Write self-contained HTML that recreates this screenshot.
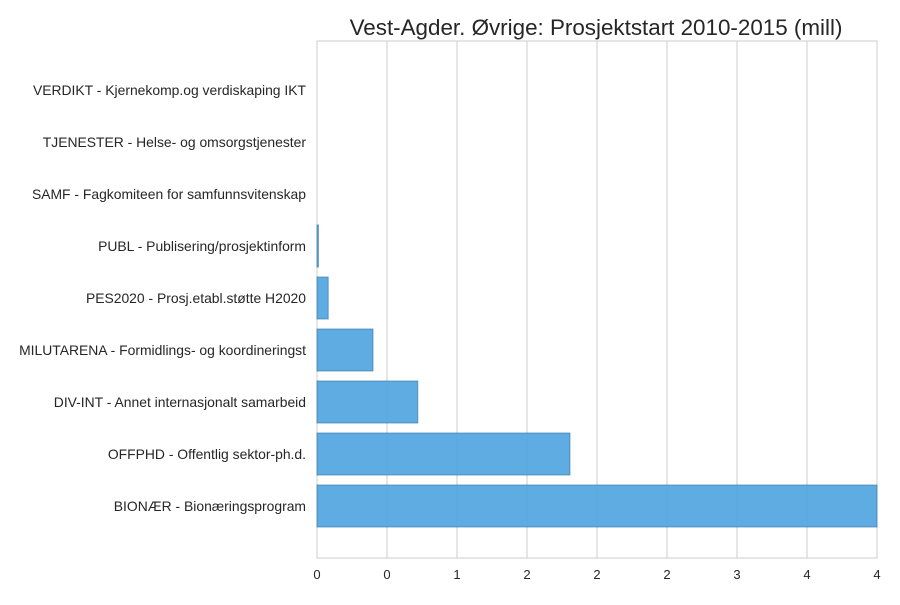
<!DOCTYPE html>
<html><head><meta charset="utf-8">
<style>
body{margin:0;background:#fff;font-family:"Liberation Sans",Arial,sans-serif;}
svg text{font-family:"Liberation Sans",Arial,sans-serif;fill:#262626;}
</style></head>
<body>
<svg id="chart" width="900" height="600">
<text x="596" y="35" font-size="22.4" text-anchor="middle">Vest-Agder. Øvrige: Prosjektstart 2010-2015 (mill)</text>
<g id="grid"></g>
<rect x="317" y="41" width="560" height="517" fill="none" stroke="#cccccc"/>
<g id="bars"></g>
<g id="labels"></g>
<g id="ticks"></g>
</svg>
<script>
const categories = ["BIONÆR - Bionæringsprogram","OFFPHD - Offentlig sektor-ph.d.","DIV-INT - Annet internasjonalt samarbeid","MILUTARENA - Formidlings- og koordineringst","PES2020 - Prosj.etabl.støtte H2020","PUBL - Publisering/prosjektinform","SAMF - Fagkomiteen for samfunnsvitenskap","TJENESTER - Helse- og omsorgstjenester","VERDIKT - Kjernekomp.og verdiskaping IKT"];
const values = [4.0, 1.807, 0.72, 0.40, 0.08, 0.01, 0, 0, 0];
const tickValues = [0,0.5,1,1.5,2,2.5,3,3.5,4];
const tickLabels = ["0","0","1","2","2","2","3","4","4"];
const NS="http://www.w3.org/2000/svg";
const x0=317,x1=877,xmax=4;
function xs(v){return x0+v/xmax*(x1-x0);}
function yc(i){return 506-52*i;}
const grid=document.getElementById('grid'),bars=document.getElementById('bars'),labels=document.getElementById('labels'),ticks=document.getElementById('ticks');
tickValues.forEach((v,i)=>{
  const l=document.createElementNS(NS,'line');
  l.setAttribute('x1',xs(v));l.setAttribute('x2',xs(v));l.setAttribute('y1',41);l.setAttribute('y2',558);
  l.setAttribute('stroke','#cccccc');l.setAttribute('stroke-width','1');
  
  
  grid.appendChild(l);
  const t=document.createElementNS(NS,'text');
  t.setAttribute('x',xs(v));t.setAttribute('y',579);t.setAttribute('font-size','13');t.setAttribute('text-anchor','middle');
  t.textContent=tickLabels[i];
  
  
  ticks.appendChild(t);
});
categories.forEach((c,i)=>{
  const r=document.createElementNS(NS,'rect');
  const w=xs(values[i])-x0;
  r.setAttribute('x',x0);r.setAttribute('y',yc(i)-21);r.setAttribute('width',Math.max(w,0));r.setAttribute('height',42);
  r.setAttribute('fill','#4ea3df');r.setAttribute('fill-opacity','0.9');r.setAttribute('stroke','#2f6f9f');r.setAttribute('stroke-opacity','0.6');
  if(w<=0) r.setAttribute('stroke','none');
  
  
  bars.appendChild(r);
  const t=document.createElementNS(NS,'text');
  t.setAttribute('x',306);t.setAttribute('y',yc(i)+5);t.setAttribute('font-size','13.9');t.setAttribute('text-anchor','end');
  t.textContent=c;
  
  
  labels.appendChild(t);
});
</script>
</body></html>
